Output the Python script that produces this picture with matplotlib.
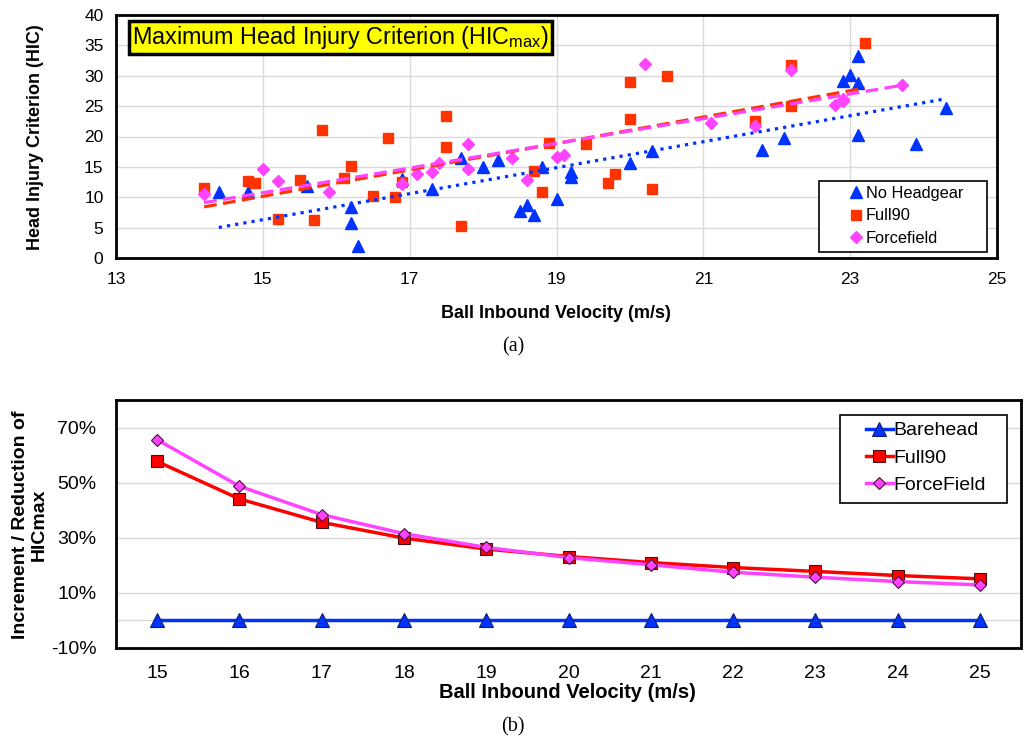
import numpy as np
import matplotlib
matplotlib.use("Agg")
import matplotlib.pyplot as plt
from matplotlib.ticker import FuncFormatter
from matplotlib.patches import Rectangle

plt.rcParams['font.family'] = ['Liberation Sans', 'DejaVu Sans']

# ---- (a) scatter data ----
nohead_v = [14.4, 14.8, 15.6, 16.2, 16.2, 16.3, 16.9, 17.3, 17.7, 18.0, 18.2, 18.5,
            18.6, 18.7, 18.8, 19.0, 19.2, 19.2, 20.0, 20.3, 21.8, 22.1, 22.9, 23.0,
            23.1, 23.1, 23.1, 23.9, 24.3]
nohead_hic = [10.8, 10.8, 11.8, 8.4, 5.8, 2.0, 13.0, 11.3, 16.4, 14.9, 16.1, 7.7,
              8.7, 7.1, 14.9, 9.7, 14.1, 13.4, 15.7, 17.6, 17.7, 19.8, 29.2, 30.2,
              33.3, 28.8, 20.2, 18.8, 24.7]

full90_v = [14.2, 14.8, 14.9, 15.2, 15.5, 15.7, 15.8, 16.1, 16.2, 16.5, 16.7, 16.8,
            16.9, 17.5, 17.5, 17.7, 18.7, 18.8, 18.9, 19.4, 19.7, 19.8, 20.0, 20.0,
            20.3, 20.5, 21.7, 22.2, 22.2, 23.2]
full90_hic = [11.6, 12.6, 12.4, 6.5, 12.9, 6.2, 21.0, 13.1, 15.1, 10.2, 19.8, 10.0,
              12.5, 23.3, 18.2, 5.3, 14.3, 10.9, 18.9, 18.8, 12.3, 13.9, 29.0, 22.8,
              11.4, 30.0, 22.5, 31.7, 25.1, 35.4]

force_v = [14.2, 15.0, 15.2, 15.9, 16.9, 17.1, 17.3, 17.4, 17.8, 17.8, 18.4, 18.6,
           19.0, 19.1, 20.2, 21.1, 21.7, 22.2, 22.8, 22.9, 22.9, 23.7]
force_hic = [10.5, 14.6, 12.6, 10.9, 12.1, 13.8, 14.1, 15.7, 18.8, 14.7, 16.5, 12.9,
             16.7, 16.9, 32.0, 22.3, 21.8, 31.0, 25.2, 25.8, 26.2, 28.5]

# ---- (b) line data ----
speeds = [15, 16, 17, 18, 19, 20, 21, 22, 23, 24, 25]
barehead = [0, 0, 0, 0, 0, 0, 0, 0, 0, 0, 0]
full90_pct = [57.7, 44.1, 35.6, 29.9, 25.9, 23.2, 21.0, 19.2, 17.8, 16.3, 15.1]
forcefield_pct = [65.6, 48.7, 38.4, 31.5, 26.5, 22.8, 20.2, 17.5, 15.7, 14.1, 12.9]

BLUE = "#0033FF"
RED = "#FF3300"
MAG = "#FF44FF"
GRID = "#D9D9D9"

W, H = 1029, 747
fig = plt.figure(figsize=(W / 100, H / 100), dpi=100)

def ax_rect(l, t, r, b):
    return [l / W, 1 - b / H, (r - l) / W, (b - t) / H]

# ================= (a) =================
ax1 = fig.add_axes(ax_rect(116, 15, 997, 258))
ax1.set_xlim(13, 25)
ax1.set_ylim(0, 40)
ax1.set_xticks(np.arange(13, 26, 2))
ax1.set_yticks(np.arange(0, 41, 5))
ax1.grid(True, color=GRID, lw=1)
ax1.set_axisbelow(True)
ax1.tick_params(length=0, labelsize=12.5)
ax1.tick_params(axis='x', pad=10)
ax1.tick_params(axis='y', pad=9)
for s in ax1.spines.values():
    s.set_linewidth(2)

ax1.plot(nohead_v, nohead_hic, '^', color=BLUE, ms=9, mec=BLUE, ls='none', label='No Headgear')
ax1.plot(full90_v, full90_hic, 's', color=RED, ms=7.5, mec=RED, ls='none', label='Full90')
ax1.plot(force_v, force_hic, 'D', color=MAG, ms=6, mec=MAG, ls='none', label='Forcefield')

# linear trend lines
for v, h, c, ls in [(nohead_v, nohead_hic, BLUE, (0, (1, 1.6))),
                    (full90_v, full90_hic, RED, (0, (4, 2))),
                    (force_v, force_hic, MAG, (0, (4, 2)))]:
    k, b = np.polyfit(v, h, 1)
    xs = np.array([min(v), max(v)])
    ax1.plot(xs, k * xs + b, color=c, lw=2.3, ls=ls)

ax1.text(0.018, 0.907, "Maximum Head Injury Criterion (HIC$_{\\mathregular{max}}$)",
         transform=ax1.transAxes, fontsize=16.8, va='center', ha='left',
         bbox=dict(boxstyle='square,pad=0.12', fc='#FFFF00', ec='black', lw=2.5))

# legend content without its own frame; frame drawn as in the reference
leg1 = ax1.legend(loc='center', bbox_to_anchor=((906 - 116) / 881, (258 - 216) / 243),
                  borderaxespad=0, fontsize=11.8, handlelength=0.8, handletextpad=0.2,
                  labelspacing=0.45, frameon=False, borderpad=0)
ax1.add_patch(Rectangle(((819 - 116) / 881, (258 - 252) / 243), (987 - 819) / 881,
                        (252 - 181) / 243, transform=ax1.transAxes, fc='white',
                        ec='black', lw=1.2, zorder=4))
leg1.set_zorder(5)

fig.text(556 / W, 1 - 313 / H, "Ball Inbound Velocity (m/s)", ha='center', va='center',
         fontsize=13, fontweight='bold')
fig.text(36 / W, 1 - 137 / H, "Head Injury Criterion (HIC)", ha='center', va='center',
         rotation=90, fontsize=13, fontweight='bold')
fig.text(513 / W, 1 - 347 / H, "(a)", ha='center', va='center', fontsize=14.5,
         family=['Liberation Serif', 'DejaVu Serif'])

# ================= (b) =================
ax2 = fig.add_axes(ax_rect(116, 400, 1021, 648))
ax2.set_xlim(14.5, 25.5)
ax2.set_ylim(-10, 80)
ax2.set_xticks(speeds)
ax2.set_yticks([-10, 10, 30, 50, 70])
ax2.yaxis.set_major_formatter(FuncFormatter(lambda v, p: "%d%%" % v))
ax2.grid(True, axis='y', color=GRID, lw=1)
ax2.axhline(0, color=GRID, lw=1, zorder=0)
ax2.set_axisbelow(True)
ax2.tick_params(length=0, labelsize=14)
ax2.tick_params(axis='x', pad=12)
ax2.tick_params(axis='y', pad=14)
for s in ax2.spines.values():
    s.set_linewidth(2)

ax2.plot(speeds, barehead, '-^', color=BLUE, lw=2.5, ms=10, mfc=BLUE, mec='#10206A',
         mew=0.8, label='Barehead')
ax2.plot(speeds, full90_pct, '-s', color='#FF0000', lw=2.5, ms=9, mfc='#FF0000',
         mec='#4A1010', mew=0.8, label='Full90')
ax2.plot(speeds, forcefield_pct, '-D', color=MAG, lw=2.5, ms=6.5, mfc=MAG,
         mec='#4A1040', mew=0.8, label='ForceField')

leg2 = ax2.legend(loc='center', bbox_to_anchor=((926 - 116) / 905, (648 - 458) / 248),
                  borderaxespad=0, fontsize=14, handlelength=1.4, handletextpad=0.05,
                  labelspacing=0.5, frameon=False, borderpad=0)
ax2.add_patch(Rectangle(((840 - 116) / 905, (648 - 503) / 248), (1007 - 840) / 905,
                        (503 - 415) / 248, transform=ax2.transAxes, fc='white',
                        ec='black', lw=1.2, zorder=4))
leg2.set_zorder(5)

fig.text(567 / W, 1 - 692 / H, "Ball Inbound Velocity (m/s)", ha='center', va='center',
         fontsize=14.5, fontweight='bold')
fig.text(30 / W, 1 - 525 / H, "Increment / Reduction of\nHICmax", ha='center', va='center',
         rotation=90, fontsize=14, fontweight='bold', linespacing=1.15)
fig.text(513 / W, 1 - 727 / H, "(b)", ha='center', va='center', fontsize=14.5,
         family=['Liberation Serif', 'DejaVu Serif'])

fig.savefig("out.png", dpi=100)
